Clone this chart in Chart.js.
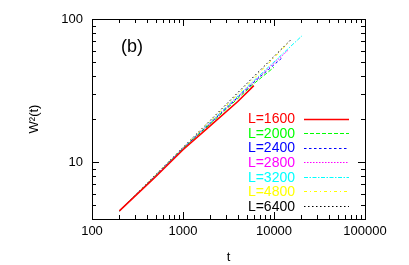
<!DOCTYPE html>
<html>
<head>
<meta charset="utf-8">
<script src="https://cdn.jsdelivr.net/npm/chart.js@4/dist/chart.umd.min.js"></script>
<style>
  html, body { margin: 0; padding: 0; background: #fff; }
  #wrap { width: 409px; height: 265px; position: relative; }
</style>
</head>
<body>
<div id="wrap"><canvas id="c" width="409" height="265"></canvas></div>
<script>
// ---- data ----
const seriesLabels = ['L=1600', 'L=2000', 'L=2400', 'L=2800', 'L=3200', 'L=4800', 'L=6400'];
const t1600 = [200, 500, 1000, 2000, 4000, 6000];
const w1600 = [4.56, 7.9, 12.2, 18.0, 26.5, 34.2];
const t2000 = [200, 500, 1000, 2000, 6000, 10000];
const w2000 = [4.56, 8.0, 12.4, 18.5, 35.3, 46.0];
const t2400 = [200, 500, 1000, 2000, 6000, 12300];
const w2400 = [4.56, 8.0, 12.45, 18.7, 36.1, 53.6];
const t2800 = [200, 500, 1000, 2000, 6000, 14400];
const w2800 = [4.56, 8.05, 12.5, 18.8, 36.4, 60.8];
const t3200 = [200, 500, 1000, 2000, 6000, 20300];
const w3200 = [4.56, 8.05, 12.5, 19.0, 37.0, 76.3];
const t4800 = [200, 500, 1000, 2000, 6000, 14700];
const w4800 = [4.56, 8.1, 12.6, 19.3, 38.2, 69.2];
const t6400 = [200, 500, 1000, 2000, 6000, 15800];
const w6400 = [4.56, 8.15, 12.65, 19.6, 39.6, 73.0];
const xTickLabels = [100, 1000, 10000, 100000];
const yTickLabels = [10, 100];

const tArrays = [t1600, t2000, t2400, t2800, t3200, t4800, t6400];
const wArrays = [w1600, w2000, w2400, w2800, w3200, w4800, w6400];
const colors = ['#ff0000', '#00ff00', '#0000ff', '#ff00ff', '#00ffff', '#ffff00', '#000000'];
const dashes = [[], [4, 2], [2.5, 2.5], [1.5, 1.5], [4, 1.5, 1.5, 1.5], [3, 3, 1, 3], [1.5, 2.5]];
const widths = [1.6, 1, 1, 1, 1, 1, 1];

const datasets = seriesLabels.map((lab, i) => ({
  label: lab,
  data: tArrays[i].map((t, j) => ({ x: t, y: wArrays[i][j] })),
  borderColor: colors[i],
  backgroundColor: colors[i],
  borderDash: dashes[i],
  borderWidth: widths[i],
  pointRadius: 0,
  tension: 0,
  fill: false
}));

function isPow10(v) {
  const l = Math.log10(v);
  return Math.abs(l - Math.round(l)) < 1e-9;
}
function logTicks(min, max) {
  const out = [];
  for (let d = Math.pow(10, Math.floor(Math.log10(min))); d <= max; d *= 10) {
    for (let m = 1; m <= 9; m++) {
      const v = m * d;
      if (v >= min - 1e-9 && v <= max + 1e-9) out.push({ value: v });
    }
  }
  return out;
}

const FONT = "'Liberation Sans', Arial, Helvetica, sans-serif";

const framePlugin = {
  id: 'frame',
  afterDatasetsDraw(chart) {
    const { ctx, chartArea: a, scales: { x, y } } = chart;
    ctx.save();
    ctx.strokeStyle = '#000';
    ctx.lineWidth = 1;
    ctx.setLineDash([]);
    ctx.strokeRect(Math.round(a.left) + 0.5, Math.round(a.top) + 0.5,
                   Math.round(a.right - a.left), Math.round(a.bottom - a.top));
    ctx.beginPath();
    x.ticks.forEach(tk => {
      const px = Math.round(x.getPixelForValue(tk.value)) + 0.5;
      const len = isPow10(tk.value) ? 7 : 4;
      ctx.moveTo(px, a.bottom); ctx.lineTo(px, a.bottom - len);
      ctx.moveTo(px, a.top); ctx.lineTo(px, a.top + len);
    });
    y.ticks.forEach(tk => {
      const py = Math.round(y.getPixelForValue(tk.value)) + 0.5;
      const len = isPow10(tk.value) ? 7 : 4;
      ctx.moveTo(a.left, py); ctx.lineTo(a.left + len, py);
      ctx.moveTo(a.right, py); ctx.lineTo(a.right - len, py);
    });
    ctx.stroke();

    // panel label
    ctx.fillStyle = '#000';
    ctx.font = '18px ' + FONT;
    ctx.textAlign = 'left';
    ctx.textBaseline = 'middle';
    ctx.fillText('(b)', 121, 47);

    // legend: text then line sample
    ctx.font = '14px ' + FONT;
    ctx.textAlign = 'right';
    chart.data.datasets.forEach((ds, i) => {
      const cy = 118.5 + i * 14.55;
      ctx.fillStyle = ds.borderColor;
      ctx.fillText(ds.label, 295, cy + 1);
      ctx.beginPath();
      ctx.strokeStyle = ds.borderColor;
      ctx.lineWidth = ds.borderWidth;
      ctx.setLineDash(ds.borderDash);
      ctx.moveTo(304, Math.round(cy) + 0.5);
      ctx.lineTo(349, Math.round(cy) + 0.5);
      ctx.stroke();
    });
    ctx.restore();
  }
};

new Chart(document.getElementById('c'), {
  type: 'line',
  data: { datasets },
  options: {
    responsive: false,
    animation: false,
    devicePixelRatio: 1,
    layout: { padding: { left: 0, top: 19, right: 44, bottom: 0 } },
    plugins: { legend: { display: false }, tooltip: { enabled: false } },
    scales: {
      x: {
        type: 'logarithmic',
        min: 100, max: 100000,
        grid: { display: false, drawTicks: false },
        border: { display: false },
        afterBuildTicks: s => { s.ticks = logTicks(100, 100000); },
        afterFit: s => { s.height = 46; },
        ticks: {
          autoSkip: false, maxRotation: 0, padding: 5,
          color: '#000', font: { family: FONT, size: 13 },
          callback: v => xTickLabels.includes(v) ? String(v) : ''
        },
        title: { display: true, text: 't', color: '#000', font: { family: FONT, size: 13 }, padding: { top: 0, bottom: 0 } }
      },
      y: {
        type: 'logarithmic',
        min: 4, max: 100,
        grid: { display: false, drawTicks: false },
        border: { display: false },
        afterBuildTicks: s => { s.ticks = logTicks(4, 100); },
        afterFit: s => { s.width = 92; },
        ticks: {
          autoSkip: false, padding: 9,
          color: '#000', font: { family: FONT, size: 13 },
          callback: v => yTickLabels.includes(v) ? String(v) : ''
        },
        title: { display: true, text: 'W²(t)', color: '#000', font: { family: FONT, size: 13 }, padding: { top: 27, bottom: 0 } }
      }
    }
  },
  plugins: [framePlugin]
});
</script>
</body>
</html>
